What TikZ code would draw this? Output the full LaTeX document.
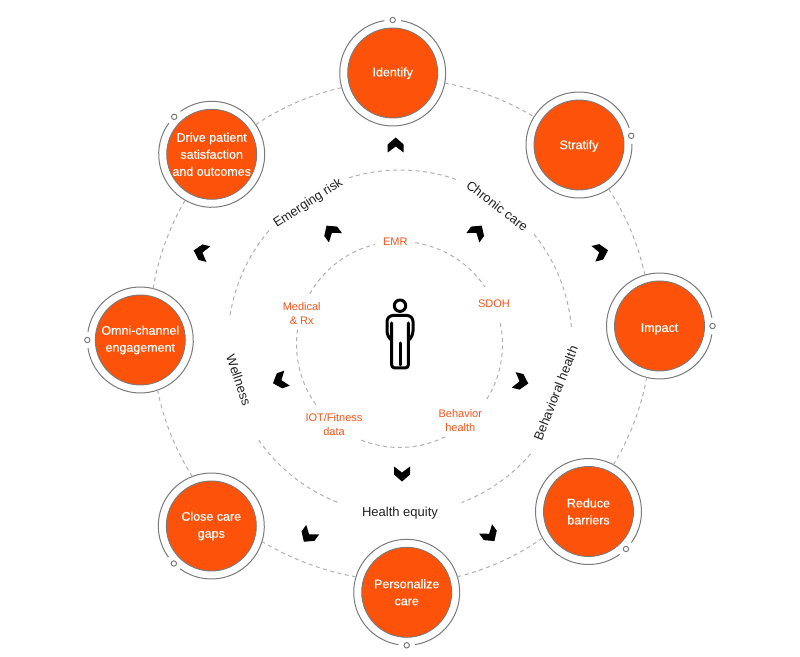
\documentclass[tikz,border=0pt]{standalone}
\usepackage{fontspec}
\setmainfont{Liberation Sans}
\newfontfamily\medfont[FakeBold=0.25]{Liberation Sans}
\usetikzlibrary{calc}
\definecolor{hub}{HTML}{FD5209}
\definecolor{hubline}{HTML}{7A7A7A}
\definecolor{dashgrey}{HTML}{B0B0B0}
\definecolor{labelorange}{HTML}{F9521A}
\definecolor{inktext}{HTML}{222222}
\tikzset{
  disc/.style={circle,fill=hub,draw=hubline,line width=0.9pt,minimum size=90pt,inner sep=0pt,outer sep=8pt,
    text=white,align=center,font=\medfont\fontsize{12.5}{17}\selectfont,
    execute at begin node={\rule{0pt}{#1}}},
  disc/.default=12.5pt,
  ringline/.style={draw=hubline,line width=1pt},
  ringdot/.style={circle,draw=hubline,line width=1pt,fill=white,minimum size=5.4pt,inner sep=0pt,outer sep=0pt},
  ringdash/.style={draw=dashgrey,line width=1pt,dash pattern=on 4pt off 3.5pt},
  midlabel/.style={text=inktext,inner sep=0pt,font=\fontsize{13}{16}\selectfont},
  innerlabel/.style={text=labelorange,inner sep=0pt,align=center,font=\fontsize{11}{14}\selectfont},
  figure line/.style={draw=black,line width=3pt,line cap=round,line join=round},
  chevron/.pic={\fill[black] (0,7.5)--(8,0.5)--(8,-7.5)--(0,-1.5)--(-8,-7.5)--(-8,0.5)--cycle;}
}
\begin{document}
\begin{tikzpicture}[x=1pt,y=1pt]
\useasboundingbox (0,0) rectangle (800,656);
\fill[white] (0,0) rectangle (800,656);
% outer hubs
\node[disc=9.5pt] (identify) at (392.7,583) {Identify};
\node[disc=11pt] (stratify) at (579,511) {Stratify};
\node[disc=14.5pt] (impact) at (659.5,330) {Impact};
\node[disc] (reduce) at (588.5,144.5) {Reduce\\barriers};
\node[disc=13.5pt] (personalize) at (406.7,63.7) {Personalize\\care};
\node[disc=15.5pt] (close) at (211.3,130) {Close care\\gaps};
\node[disc] (omni) at (140.3,316) {Omni-channel\\engagement};
\node[disc=8pt] (drive) at (211.7,501.7) {Drive patient\\satisfaction\\and outcomes};
% rings with their small circles
\foreach \n/\a in {identify/90,stratify/10,impact/0,reduce/-45,personalize/-90,close/-135,omni/180,drive/135}{
  \draw[ringline] ($(\n)+(\a+9:53)$) arc[start angle=\a+9,delta angle=342,radius=53];
  \node[ringdot] (\n-dot) at ($(\n)+(\a:53)$) {};
}
% outer connectors
\foreach \p/\pa/\q/\qa in {identify/-11.7/stratify/148,stratify/-56/impact/106.3,impact/-104/reduce/62.3,
    reduce/210.4/personalize/17.5,personalize/163.8/close/-17.9,close/111/omni/-71.8,omni/76.3/drive/240.2,drive/34.6/identify/196.2}{
  \draw[ringdash] (\p.\pa) to[bend left=10.5,looseness=0.86] (\q.\qa);
}
% ring centres
\coordinate (midc) at (400,314);
\coordinate (innc) at (399.5,311.5);
% middle ring
\foreach \i/\s/\e in {1/107.3/69.8,2/38.8/4,3/-40.6/-69,4/-111.4/-146,5/171/138.4}{
  \path (midc) ++(\s:172) coordinate (m\i);
  \draw[ringdash] (m\i) arc[start angle=\s,end angle=\e,radius=172];
}
% inner ring
\foreach \i/\s/\e in {1/81.3/34,2/12/-33.7,3/-63.7/-112.6,4/-144.3/-189.1,5/150.6/103.7}{
  \path (innc) ++(\s:103) coordinate (n\i);
  \draw[ringdash] (n\i) arc[start angle=\s,end angle=\e,radius=103];
}
% middle labels
\node[midlabel,rotate=33] (emerging) at (308.3,452.7) {Emerging risk};
\node[midlabel,rotate=-37.6] (chronic) at (497.3,450) {Chronic care};
\node[midlabel,rotate=68.7] (behavioral) at (555.7,262.7) {Behavioral health};
\node[midlabel] (equity) at (400,142.5) {Health equity};
\node[midlabel,rotate=-71] (wellness) at (238.8,276) {Wellness};
% inner labels
\node[innerlabel] (emr) at (395.3,414.5) {EMR};
\node[innerlabel] (sdoh) at (494,352) {SDOH};
\node[innerlabel] (behavior) at (460.3,235) {Behavior\\health};
\node[innerlabel] (iot) at (334,231.7) {IOT/Fitness\\data};
\node[innerlabel] (medical) at (301.7,342.7) {Medical\\\& Rx};
% chevrons
\foreach \x/\y/\d in {395.7/511/90,600.7/404/14,490/121/-54,308.3/120.3/-126,201/403.7/166,
                      477.3/424.3/54,521/274.3/-14,402/182/-90,280/275.3/200,331/424.3/126}{
  \pic[rotate=\d-90] at (\x,\y) {chevron};
}
% person
\draw[figure line] (400,350.3) circle[radius=5.7];
\draw[figure line,rounded corners=6pt] (391.7,315.5) -- (387,319) -- (387,340.5) -- (413,340.5) -- (413,319) -- (408.3,315.5);
\draw[figure line,rounded corners=3pt] (391.7,333) -- (391.7,288) -- (400,288) -- (408.3,288) -- (408.3,333);
\draw[figure line] (400,291) -- (400,313);
\end{tikzpicture}
\end{document}
